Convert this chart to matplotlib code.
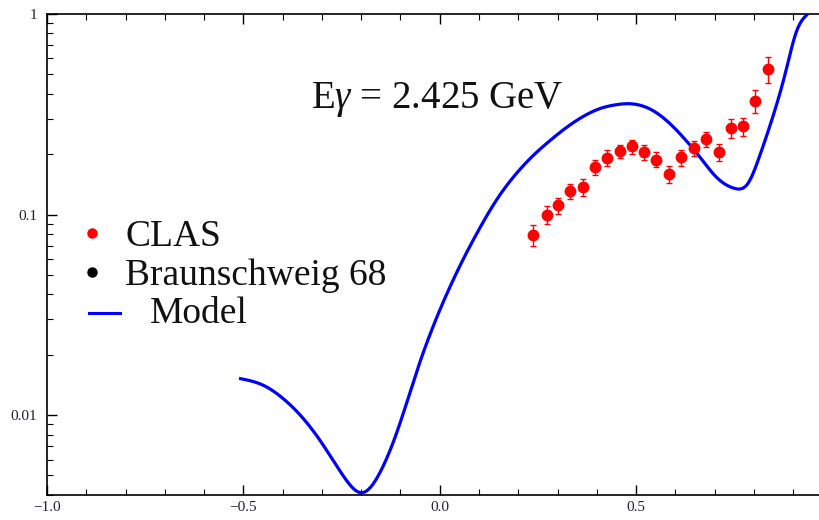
import numpy as np
import matplotlib
matplotlib.use("Agg")
import matplotlib.pyplot as plt
from matplotlib.ticker import FixedLocator, NullFormatter

# ---- data ----
clas_x = [0.237, 0.272, 0.301, 0.333, 0.365, 0.396, 0.427, 0.458, 0.489, 0.520,
          0.552, 0.585, 0.615, 0.647, 0.679, 0.710, 0.742, 0.772, 0.803, 0.835]
clas_y = [0.0795, 0.100, 0.111, 0.131, 0.137, 0.173, 0.192, 0.207, 0.219, 0.205,
          0.188, 0.159, 0.193, 0.215, 0.238, 0.205, 0.270, 0.275, 0.368, 0.530]
clas_err = [0.0096, 0.0100, 0.0106, 0.0113, 0.0126, 0.0149, 0.0176, 0.0154, 0.0176, 0.0176,
            0.0162, 0.0159, 0.0177, 0.0185, 0.0212, 0.0207, 0.0279, 0.0278, 0.0478, 0.078]

model_x = [-0.511, -0.450, -0.399, -0.348, -0.297, -0.240, -0.199, -0.153, -0.110, -0.0764,
           -0.0509, -0.0255, 0.0, 0.0339, 0.068, 0.0935, 0.119, 0.153, 0.195, 0.237,
           0.280, 0.322, 0.365, 0.407, 0.450, 0.475, 0.534, 0.577, 0.619, 0.662,
           0.704, 0.751, 0.785, 0.814, 0.848, 0.882, 0.908, 0.937]
model_y = [0.01524, 0.0141, 0.0121, 0.00964, 0.0071, 0.00480, 0.0041, 0.00513, 0.00811, 0.01282,
           0.01824, 0.0250, 0.0333, 0.0470, 0.0643, 0.0798, 0.0979, 0.125, 0.160, 0.196,
           0.233, 0.271, 0.308, 0.337, 0.353, 0.357, 0.337, 0.295, 0.244, 0.194,
           0.154, 0.135, 0.143, 0.194, 0.306, 0.524, 0.813, 1.0]

title_text = r"E$\gamma$ = 2.425 GeV"
legend_labels = ["CLAS", "Braunschweig 68", "Model"]
x_ticks = [-1.0, -0.5, 0.0, 0.5]
x_ticklabels = ["\u22121.0", "\u22120.5", "0.0", "0.5"]
y_ticks = [0.01, 0.1, 1]
y_ticklabels = ["0.01", "0.1", "1"]

plt.rcParams['mathtext.fontset'] = 'custom'
plt.rcParams['mathtext.rm'] = 'Liberation Serif'
plt.rcParams['mathtext.it'] = 'Liberation Serif:italic'
plt.rcParams['font.family'] = ['Liberation Serif', 'DejaVu Serif']


def natural_spline(x, y, xs):
    x = np.asarray(x, float); y = np.asarray(y, float)
    n = len(x)
    h = np.diff(x)
    A = np.zeros((n, n)); rhs = np.zeros(n)
    A[0, 0] = 1; A[-1, -1] = 1
    for i in range(1, n - 1):
        A[i, i - 1] = h[i - 1]
        A[i, i] = 2 * (h[i - 1] + h[i])
        A[i, i + 1] = h[i]
        rhs[i] = 3 * ((y[i + 1] - y[i]) / h[i] - (y[i] - y[i - 1]) / h[i - 1])
    c = np.linalg.solve(A, rhs)
    b = (y[1:] - y[:-1]) / h - h * (2 * c[:-1] + c[1:]) / 3
    d = (c[1:] - c[:-1]) / (3 * h)
    idx = np.clip(np.searchsorted(x, xs) - 1, 0, n - 2)
    dx = xs - x[idx]
    return y[idx] + b[idx] * dx + c[idx] * dx ** 2 + d[idx] * dx ** 3


W, H = 819, 520
fig = plt.figure(figsize=(W / 100, H / 100), dpi=100)
L, R, T, B = 47, 819, 14, 495
ax = fig.add_axes([L / W, 1 - B / H, (R - L) / W, (B - T) / H])

xs = np.linspace(model_x[0], model_x[-1], 1000)
ys = 10 ** natural_spline(model_x, np.log10(model_y), xs)
ax.plot(xs, ys, color=(0, 0, 1), lw=2.3, solid_capstyle='butt', zorder=3)

ax.errorbar(clas_x, clas_y, yerr=clas_err, fmt='o', color=(1, 0, 0), ms=7.5,
            elinewidth=1.0, capsize=2.5, capthick=1.0, zorder=4)

ax.set_yscale('log')
ax.set_xlim(-1.0, -1.0 + (R - L) / 392.7)
ax.set_ylim(10 ** (-1 - (B - 214.3) / 200.7), 1.0)

ax.xaxis.set_major_locator(FixedLocator(x_ticks))
ax.set_xticklabels(x_ticklabels)
ax.xaxis.set_minor_locator(FixedLocator(np.round(np.arange(-1.0, 1.0, 0.1), 2)))
ax.yaxis.set_major_locator(FixedLocator(y_ticks))
ax.set_yticklabels(y_ticklabels)
minors = [m * 10.0 ** e for e in (-3, -2, -1) for m in range(2, 10)]
ax.yaxis.set_minor_locator(FixedLocator(minors))
ax.yaxis.set_minor_formatter(NullFormatter())

ax.tick_params(which='both', direction='in', top=True, right=False, colors='black')
ax.tick_params(which='major', length=7, width=1.0, labelsize=11)
ax.tick_params(which='minor', length=4, width=0.8)
ax.tick_params(axis='x', which='major', pad=4)
ax.tick_params(axis='y', which='major', pad=7)
for lab in ax.get_xticklabels() + ax.get_yticklabels():
    lab.set_color('#222233')

ax.spines['right'].set_visible(False)
for s in ('left', 'bottom', 'top'):
    ax.spines[s].set_linewidth(1.2)

# title inside the plot
fig.text(311 / W, 1 - 108 / H, title_text, fontsize=28, ha='left', va='baseline', color='#111111')

# legend (manual)
fig.lines.append(plt.Line2D([92 / W], [1 - 233 / H], marker='o', ms=6.5, color=(1, 0, 0), transform=fig.transFigure, linestyle='none'))
fig.lines.append(plt.Line2D([92 / W], [1 - 272 / H], marker='o', ms=6.5, color='black', transform=fig.transFigure, linestyle='none'))
fig.lines.append(plt.Line2D([89 / W, 120 / W], [1 - 313 / H, 1 - 313 / H], color=(0, 0, 1), lw=2.2, transform=fig.transFigure))
fig.text(125 / W, 1 - 246.5 / H, legend_labels[0], fontsize=27, ha='left', va='baseline', color='#111111')
fig.text(125 / W, 1 - 285 / H, legend_labels[1], fontsize=27, ha='left', va='baseline', color='#111111')
fig.text(150 / W, 1 - 323 / H, legend_labels[2], fontsize=27, ha='left', va='baseline', color='#111111')

fig.savefig('out.png', dpi=100)
